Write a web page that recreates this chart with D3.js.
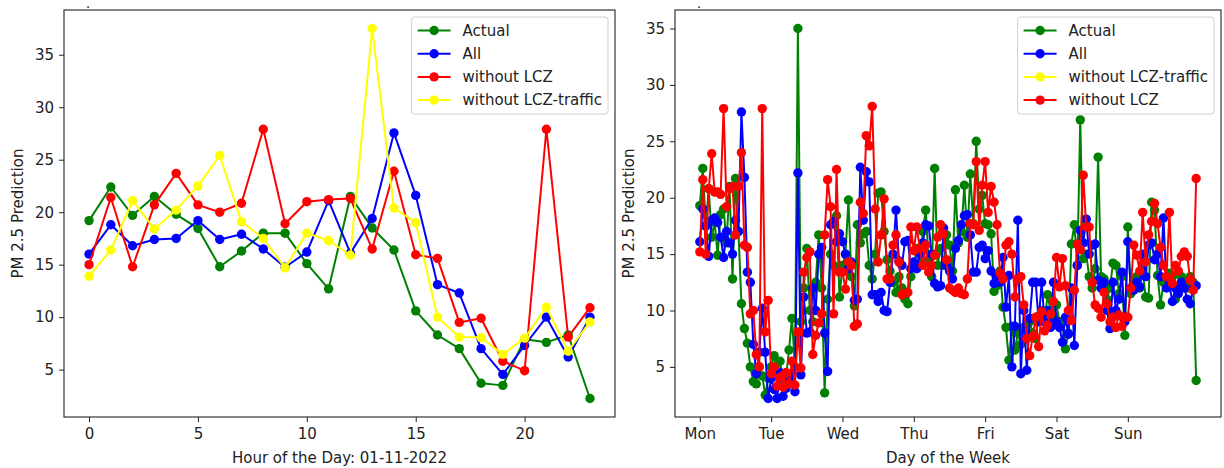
<!DOCTYPE html>
<html><head><meta charset="utf-8">
<script src="https://cdn.jsdelivr.net/npm/d3@7"></script>
<style>body{margin:0;background:#fff}svg text{font-family:"DejaVu Sans",sans-serif;}</style>
</head><body><svg id="c" width="1224" height="468"></svg>
<script>
// ---------- data ----------
const hours = d3.range(24);
const hourTicks = [0, 5, 10, 15, 20];
const yTicks = [5, 10, 15, 20, 25, 30, 35];

const dayActual = [19.2, 22.4, 19.7, 21.5, 19.8, 18.45, 14.8, 16.3, 18.0, 18.0, 15.1, 12.7, 21.5, 18.5, 16.4, 10.6, 8.3, 7.0, 3.7, 3.5, 7.9, 7.6, 8.3, 2.25];
const dayAll = [16.0, 18.8, 16.8, 17.4, 17.5, 19.2, 17.4, 17.9, 16.5, 14.75, 16.2, 21.1, 16.1, 19.4, 27.55, 21.6, 13.1, 12.3, 7.0, 4.55, 7.3, 10.0, 6.2, 10.0];
const dayNoLCZ = [15.0, 21.4, 14.8, 20.7, 23.7, 20.7, 20.0, 20.85, 27.9, 18.9, 21.0, 21.2, 21.3, 16.5, 23.9, 15.95, 15.6, 9.5, 9.9, 5.8, 4.9, 27.9, 8.1, 10.9];
const dayNoLCZTraffic = [13.9, 16.4, 21.1, 18.4, 20.2, 22.5, 25.4, 19.1, 17.5, 14.7, 18.0, 17.3, 15.9, 37.5, 20.4, 19.0, 10.0, 8.1, 8.05, 6.45, 8.0, 10.95, 6.75, 9.55];

const weekDays = ["Mon", "Tue", "Wed", "Thu", "Fri", "Sat", "Sun"];
const weekActual = [
  19.3, 22.6, 17.5, 20.8, 16.5, 17.8, 14.9, 18.5, 19.0, 16.0, 21.0, 12.8, 21.7, 17.0, 10.6, 8.4, 7.1, 5.0, 3.7, 3.5, 5.0, 4.2, 2.5, 4.0,
  5.0, 6.0, 4.5, 5.5, 3.5, 4.0, 6.5, 9.3, 5.0, 35.0, 9.0, 12.0, 15.5, 10.0, 9.0, 12.5, 16.7, 12.0, 2.7, 11.0, 15.0, 14.0, 18.4, 11.2,
  14.0, 15.0, 19.8, 13.0, 10.4, 17.6, 16.0, 16.8, 17.0, 14.0, 12.8, 15.0, 20.4, 20.5, 17.0, 14.5, 13.5, 12.5, 11.6, 13.0, 12.0, 11.0, 10.6, 13.0,
  14.0, 15.5, 14.0, 17.0, 18.9, 14.5, 13.0, 22.6, 14.0, 15.5, 14.0, 16.7, 15.8, 13.5, 20.7, 16.0, 17.0, 21.1, 16.5, 22.1, 17.7, 25.0, 19.0, 20.2,
  17.7, 17.6, 16.8, 11.7, 12.2, 13.5, 10.3, 8.5, 5.6, 8.6, 6.5, 8.0, 7.0, 8.5, 7.5, 9.0, 8.0, 7.5, 9.5, 10.0, 9.0, 11.4, 10.0, 9.5,
  10.5, 9.0, 9.0, 6.6, 8.0, 15.9, 17.6, 14.0, 26.9, 14.6, 15.0, 13.0, 12.0, 13.7, 23.6, 13.0, 12.8, 11.0, 12.0, 14.2, 14.0, 11.5, 13.0, 7.8,
  17.4, 11.5, 12.5, 13.0, 12.0, 13.5, 11.2, 11.1, 19.6, 18.9, 13.1, 10.5, 12.5, 13.0, 13.3, 13.0, 11.0, 12.0, 13.0, 12.5, 12.0, 13.0, 12.5, 3.8
];
const weekAll = [
  16.1, 19.0, 17.5, 14.8, 18.0, 18.2, 17.8, 16.5, 14.7, 17.0, 16.0, 15.0, 18.0, 17.0, 27.6, 21.8, 13.4, 12.5, 7.0, 4.4, 6.3, 10.2, 6.3, 2.2,
  4.0, 3.0, 2.2, 4.5, 2.4, 3.1, 4.0, 4.4, 2.8, 22.2, 4.3, 11.2, 8.0, 8.1, 12.0, 10.0, 15.0, 15.6, 8.0, 4.6, 17.6, 17.9, 16.1, 16.8,
  16.1, 15.0, 13.7, 14.3, 10.9, 11.0, 22.7, 18.0, 22.3, 21.4, 11.4, 11.4, 10.8, 11.6, 10.0, 9.9, 12.5, 15.0, 18.9, 14.4, 14.0, 16.1, 16.2, 13.7,
  14.3, 13.7, 15.0, 16.0, 17.6, 17.5, 15.0, 12.4, 12.1, 12.2, 17.3, 14.0, 13.5, 12.8, 15.5, 16.2, 17.6, 18.4, 18.5, 16.7, 13.4, 13.4, 15.6, 15.8,
  14.6, 15.3, 13.5, 12.4, 13.0, 12.5, 14.7, 10.3, 13.1, 5.0, 8.6, 18.0, 4.4, 10.0, 4.7, 9.3, 12.5, 12.5, 9.0, 12.5, 9.0, 10.0, 8.5, 12.5,
  9.0, 8.5, 7.2, 9.4, 7.9, 12.0, 6.9, 14.0, 17.1, 16.0, 18.1, 15.0, 15.8, 15.9, 12.7, 12.0, 12.5, 10.0, 8.4, 12.5, 10.0, 11.0, 13.4, 9.0,
  16.1, 12.0, 11.8, 12.5, 12.1, 15.0, 13.0, 15.8, 16.0, 14.5, 15.0, 13.0, 18.2, 12.0, 12.2, 10.8, 12.0, 11.5, 12.5, 12.0, 11.0, 10.6, 12.0, 12.2
];
const weekNoLCZ = [
  15.2, 21.6, 15.0, 20.8, 23.9, 20.5, 20.5, 20.3, 27.9, 19.2, 20.8, 21.0, 16.7, 21.0, 24.0, 15.8, 15.6, 9.7, 10.0, 6.1, 5.0, 27.9, 8.1, 10.9,
  4.4, 5.0, 3.3, 4.1, 3.2, 4.5, 3.5, 5.5, 3.4, 8.1, 4.9, 13.4, 14.7, 15.2, 6.1, 7.8, 8.9, 9.7, 16.7, 21.6, 19.2, 9.7, 22.5, 13.4,
  13.4, 11.9, 14.3, 14.0, 8.6, 8.8, 19.6, 18.6, 25.5, 24.6, 28.1, 19.0, 14.3, 16.7, 19.9, 12.8, 12.8, 15.8, 16.7, 14.3, 11.4, 11.5, 11.6, 17.4,
  15.3, 17.4, 15.5, 14.0, 15.8, 13.4, 14.0, 14.9, 16.5, 17.6, 16.8, 14.5, 12.0, 11.8, 11.6, 12.0, 11.5, 11.4, 12.8, 17.7, 17.6, 23.2, 17.1, 21.1,
  23.2, 18.7, 21.0, 19.6, 17.6, 13.3, 12.8, 15.8, 16.1, 15.0, 11.2, 12.8, 13.0, 10.5, 7.5, 6.0, 7.7, 9.4, 6.8, 9.9, 8.2, 8.7, 9.7, 10.8,
  14.7, 12.1, 14.6, 12.2, 10.0, 9.1, 11.8, 15.9, 15.4, 22.0, 17.4, 17.4, 12.5, 10.5, 10.2, 9.4, 11.6, 10.6, 9.0, 9.4, 8.5, 9.6, 8.6, 9.4,
  9.4, 12.0, 15.8, 14.9, 13.5, 18.7, 14.3, 16.7, 17.9, 19.5, 17.7, 15.6, 14.0, 13.0, 18.7, 12.4, 14.0, 13.5, 14.8, 15.2, 14.8, 12.7, 11.8, 21.7
];
const weekHours = d3.range(weekActual.length);
const dayTicks = d3.range(7).map(i => i * 24);

// ---------- drawing ----------
const svg = d3.select("#c");
const TXT = "#222";
const FS = 15;
const R = 4.7;

function padded(ext) { const s = ext[1] - ext[0]; return [ext[0] - 0.05 * s, ext[1] + 0.05 * s]; }

function panel(o) {
  const x = d3.scaleLinear().domain(padded(d3.extent(o.xs))).range([o.left, o.right]);
  const allV = o.series.flatMap(s => s.values);
  const y = d3.scaleLinear().domain(padded(d3.extent(allV))).range([o.bottom, o.top]);
  const g = svg.append("g");

  const line = d3.line().x((d, i) => x(o.xs[i])).y(d => y(d));
  o.series.forEach(s => {
    const sg = g.append("g");
    sg.append("path").datum(s.values).attr("d", line)
      .attr("fill", "none").attr("stroke", s.color).attr("stroke-width", 2).attr("stroke-linejoin", "round");
    sg.selectAll("circle").data(s.values).join("circle")
      .attr("cx", (d, i) => x(o.xs[i])).attr("cy", d => y(d)).attr("r", R).attr("fill", s.color);
  });

  // axes
  const ax = g.append("g").attr("transform", `translate(0,${o.bottom})`)
    .call(d3.axisBottom(x).tickValues(o.xTicks).tickFormat(o.xFmt).tickSize(5).tickPadding(6));
  const ay = g.append("g").attr("transform", `translate(${o.left},0)`)
    .call(d3.axisLeft(y).tickValues(yTicks).tickFormat(d3.format("d")).tickSize(5).tickPadding(5));
  [ax, ay].forEach(a => {
    a.select(".domain").remove();
    a.selectAll("line").attr("stroke", TXT).attr("stroke-width", 1);
    a.selectAll("text").attr("fill", TXT).style("font-size", FS + "px").style("font-family", "DejaVu Sans");
  });
  g.append("rect").attr("x", o.left).attr("y", o.top).attr("width", o.right - o.left).attr("height", o.bottom - o.top)
    .attr("fill", "none").attr("stroke", TXT).attr("stroke-width", 1.1);

  // labels
  g.append("text").attr("x", (o.left + o.right) / 2).attr("y", 463).attr("text-anchor", "middle")
    .attr("fill", TXT).style("font-size", FS + "px").text(o.xlabel);
  g.append("text").attr("transform", `translate(${o.ylabelX},${(o.top + o.bottom) / 2}) rotate(-90)`)
    .attr("text-anchor", "middle").attr("dominant-baseline", "central")
    .attr("fill", TXT).style("font-size", FS + "px").text(o.ylabel);
  g.append("text").attr("x", o.left + 24).attr("y", 7.5).attr("text-anchor", "middle")
    .attr("fill", TXT).style("font-size", "8px").style("font-weight", "bold").text(".");

  // legend
  const lg = g.append("g");
  const box = lg.append("rect").attr("rx", 3).attr("ry", 3).attr("fill", "#fff").attr("fill-opacity", 0.8)
    .attr("stroke", "#d0d0d0").attr("stroke-width", 1);
  let maxW = 0;
  o.legend.forEach((s, i) => {
    const cy = 13.5 + i * 23.2;
    lg.append("line").attr("x1", 6).attr("x2", 39).attr("y1", cy).attr("y2", cy).attr("stroke", s.color).attr("stroke-width", 2);
    lg.append("circle").attr("cx", 22.5).attr("cy", cy).attr("r", R).attr("fill", s.color);
    const t = lg.append("text").attr("x", 51).attr("y", cy).attr("dominant-baseline", "central")
      .attr("fill", TXT).style("font-size", FS + "px").text(s.name);
    maxW = Math.max(maxW, t.node().getComputedTextLength());
  });
  const bw = 51 + maxW + 6, bh = 13.5 + 3 * 23.2 + 14;
  box.attr("x", 0).attr("y", 0).attr("width", bw).attr("height", bh);
  lg.attr("transform", `translate(${o.right - 7 - bw},${o.top + 7})`);
}

const C = { green: "#008000", blue: "#0000ff", red: "#ff0000", yellow: "#ffff00" };

panel({
  left: 64, right: 615, top: 10, bottom: 417,
  xs: hours, xTicks: hourTicks, xFmt: d3.format("d"),
  series: [
    { name: "Actual", color: C.green, values: dayActual },
    { name: "All", color: C.blue, values: dayAll },
    { name: "without LCZ", color: C.red, values: dayNoLCZ },
    { name: "without LCZ-traffic", color: C.yellow, values: dayNoLCZTraffic }
  ],
  legend: [
    { name: "Actual", color: C.green }, { name: "All", color: C.blue },
    { name: "without LCZ", color: C.red }, { name: "without LCZ-traffic", color: C.yellow }
  ],
  xlabel: "Hour of the Day: 01-11-2022", ylabel: "PM 2.5 Prediction", ylabelX: 18
});

panel({
  left: 675, right: 1221, top: 10, bottom: 417,
  xs: weekHours, xTicks: dayTicks, xFmt: (d, i) => weekDays[i],
  series: [
    { name: "Actual", color: C.green, values: weekActual },
    { name: "All", color: C.blue, values: weekAll },
    { name: "without LCZ", color: C.red, values: weekNoLCZ }
  ],
  legend: [
    { name: "Actual", color: C.green }, { name: "All", color: C.blue },
    { name: "without LCZ-traffic", color: C.yellow }, { name: "without LCZ", color: C.red }
  ],
  xlabel: "Day of the Week", ylabel: "PM 2.5 Prediction", ylabelX: 629
});
</script></body></html>
